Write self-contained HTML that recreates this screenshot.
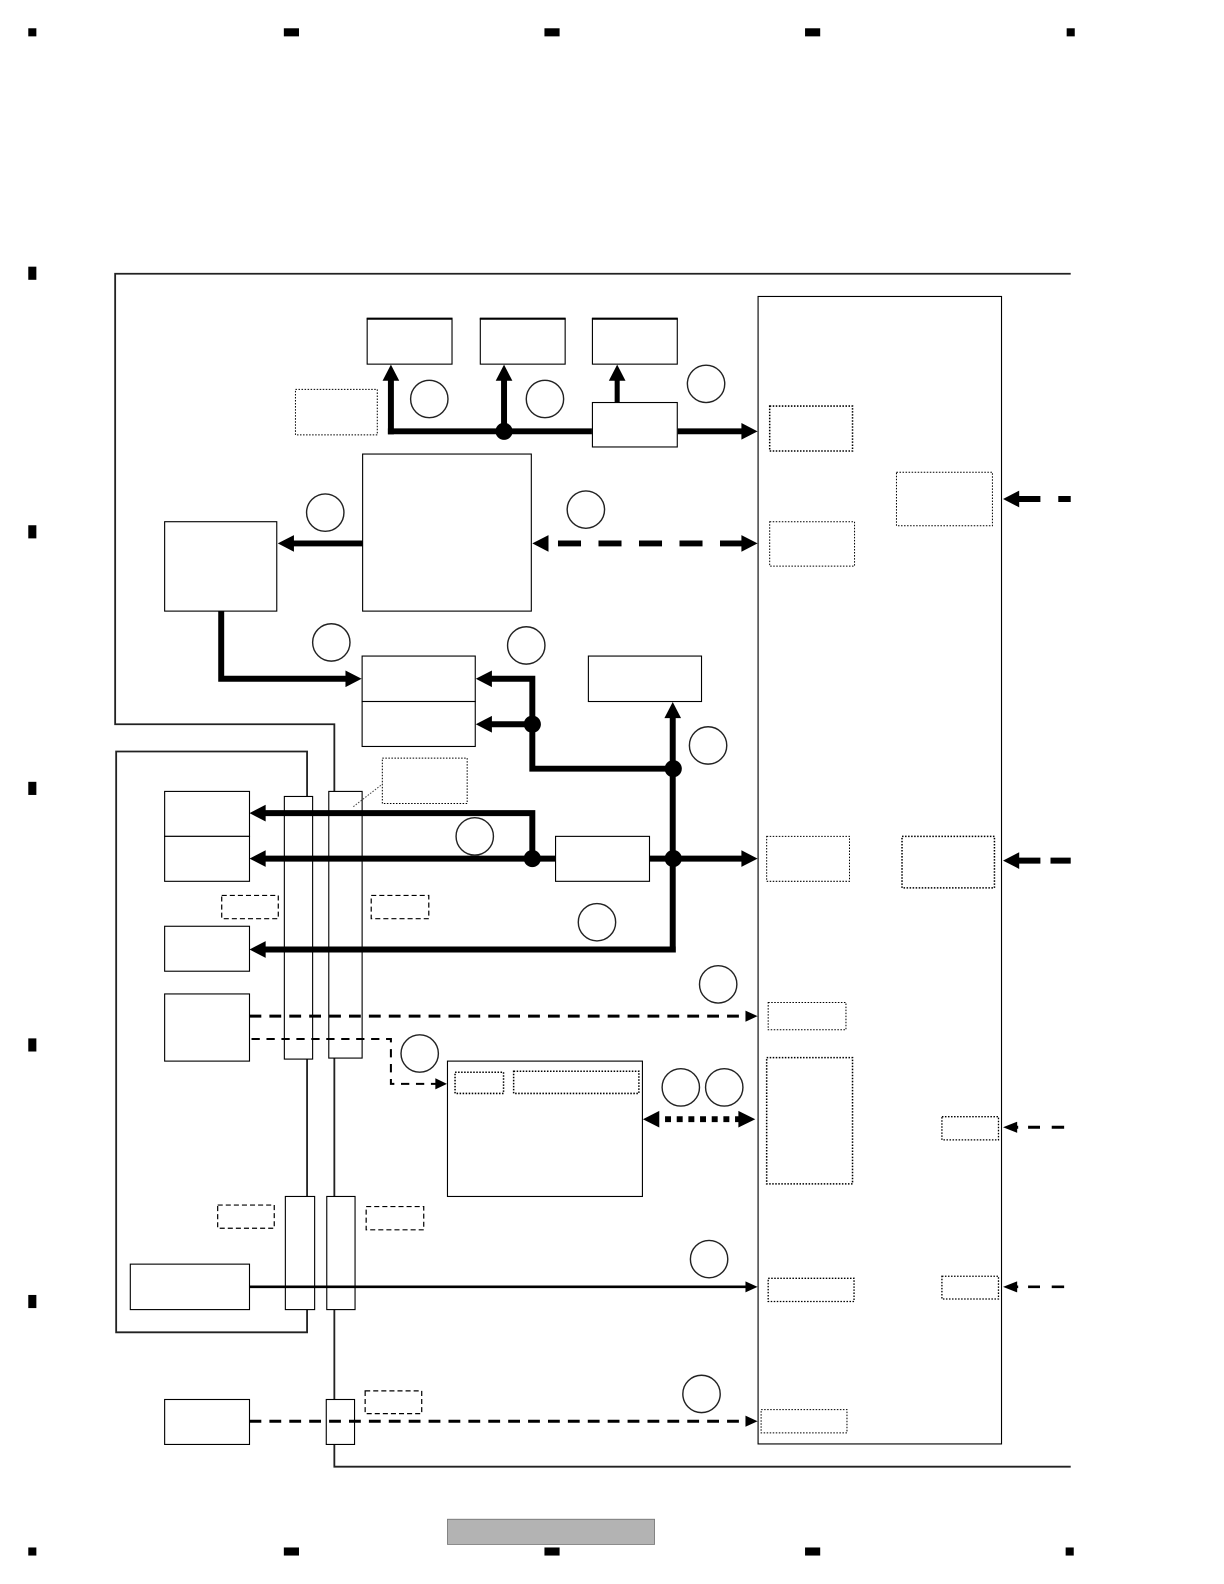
<!DOCTYPE html>
<html><head><meta charset="utf-8"><style>html,body{margin:0;padding:0;background:#fff}svg{display:block}</style></head><body>
<svg xmlns="http://www.w3.org/2000/svg" width="1224" height="1584" viewBox="0 0 1211.76 1568.16">
<g fill="#000">
<rect x="28" y="28" width="8" height="8"/><rect x="281" y="28" width="15" height="8"/><rect x="539" y="28" width="15" height="8"/><rect x="797" y="28" width="15" height="8"/><rect x="1056" y="28" width="8" height="8"/>
<rect x="28" y="264" width="8" height="13"/><rect x="28" y="520" width="8" height="13"/><rect x="28" y="774" width="8" height="13"/><rect x="28" y="1028" width="8" height="13"/><rect x="28" y="1282" width="8" height="13"/>
<rect x="28" y="1532" width="8" height="8"/><rect x="281" y="1532" width="15" height="8"/><rect x="539" y="1532" width="15" height="8"/><rect x="797" y="1532" width="15" height="8"/><rect x="1055" y="1532" width="8" height="8"/>
</g>
<rect x="443" y="1504" width="205" height="25" fill="#b3b3b3" stroke="#666" stroke-width="0.7"/>
<g fill="none" stroke="#222">
<path d="M1060 271H114V717H331V1452H1060" stroke-width="1.800"/>
<path d="M304 1184V744H115V1319H304V1184" stroke-width="1.800"/>
</g>
<g fill="#fff" stroke="#000" stroke-width="1.100">
<rect x="750.500" y="293.500" width="241" height="1136"/>
<rect x="363.500" y="315.500" width="84" height="45"/><rect x="475.500" y="315.500" width="84" height="45"/><rect x="586.500" y="315.500" width="84" height="45"/>
<rect x="359" y="449.500" width="167" height="155.500"/>
<rect x="163" y="516.500" width="111" height="88.500"/>
<rect x="358.500" y="649.500" width="112" height="45"/><rect x="358.500" y="694.500" width="112" height="44.500"/>
<rect x="582.500" y="649.500" width="112" height="45"/>
<rect x="163" y="783.500" width="84" height="44.500"/><rect x="163" y="828" width="84" height="44.500"/>
<rect x="550" y="828" width="93" height="44.500"/>
<rect x="163" y="917" width="84" height="44.500"/>
<rect x="163" y="984" width="84" height="66.500"/>
<rect x="443" y="1050.500" width="193" height="134"/>
<rect x="129" y="1251.500" width="118" height="45"/>
<rect x="163" y="1385.500" width="84" height="44.500"/>
<rect x="281.500" y="788.500" width="28" height="260"/>
<rect x="325.500" y="783.500" width="33" height="264"/>
<rect x="282.500" y="1184.500" width="29" height="112"/>
<rect x="323.500" y="1184.500" width="28" height="112"/>
<rect x="323" y="1385.500" width="28" height="44.500"/>
</g>
<path d="M363 315.500H448M475 315.500H560M586 315.500H671" stroke="#000" stroke-width="2" fill="none"/>
<g fill="none" stroke="#000" stroke-width="1" stroke-dasharray="1.500 1.500">
<rect x="292.500" y="385.500" width="81" height="45"/>
<rect x="762" y="402" width="82" height="44.500" stroke-width="1.500"/>
<rect x="887.500" y="467.500" width="95" height="53"/>
<rect x="762" y="516.500" width="84" height="44"/>
<rect x="378.500" y="750.500" width="84" height="45"/>
<rect x="759" y="828" width="82" height="44.500"/>
<rect x="893" y="828" width="91.500" height="51" stroke-width="1.500"/>
<rect x="760.500" y="992.500" width="77" height="27"/>
<rect x="759" y="1047" width="85" height="125" stroke-width="1.500"/>
<rect x="450.500" y="1061.500" width="48" height="21" stroke-width="1.500"/>
<rect x="508.500" y="1060.500" width="124" height="22" stroke-width="1.500"/>
<rect x="932.500" y="1105.500" width="56" height="23" stroke-width="1.300"/>
<rect x="760.500" y="1265.500" width="85" height="23" stroke-width="1.300"/>
<rect x="932.500" y="1263.500" width="56" height="22.500" stroke-width="1.300"/>
<rect x="753.500" y="1395.500" width="85" height="23"/>
<path d="M349.800 798.600L378.900 776" stroke="#444"/>
</g>
<g fill="none" stroke="#000" stroke-width="1.200" stroke-dasharray="5 3">
<rect x="219.500" y="886.500" width="56" height="23"/>
<rect x="367.500" y="886.500" width="57" height="23"/>
<rect x="215.500" y="1193" width="56" height="23"/>
<rect x="362.500" y="1194.500" width="57" height="23"/>
<rect x="361.500" y="1377" width="56" height="22.500"/>
</g>
<g fill="none" stroke="#000" stroke-linejoin="miter">
<g stroke-width="5.900">
<path d="M387 430V375"/>
<path d="M384 427H586"/>
<path d="M499 427V375"/>
<path d="M671 427H736"/>
<path d="M359 538H289"/>
<path d="M219 605V672H344"/>
<path d="M666 761H527V672H485"/>
<path d="M527 717H485"/>
<path d="M666 942.950V709"/>
<path d="M668.950 940H261"/>
<path d="M643 850H736"/>
<path d="M550 850H261"/>
<path d="M527 850V805H261"/>
<path d="M1060 494H1047.700M1030 494H1005"/>
<path d="M1060 852H1040M1030 852H1005"/>
<path d="M552.400 538H736" stroke-dasharray="22.800 17.300"/>
<path d="M658.400 1108H736" stroke-dasharray="5.900 5.650"/>
</g>
<path d="M611 398V375" stroke-width="5"/>
<path d="M247 1006H740" stroke-width="3" stroke-dasharray="11.700 8"/>
<path d="M249 1028.600H387V1073H432" stroke-width="2" stroke-dasharray="8.200 6.600"/>
<path d="M247 1274H740" stroke-width="2.600"/>
<path d="M247 1407H740" stroke-width="3" stroke-dasharray="11.700 8"/>
<path d="M1053.500 1116H1041.200M1029.600 1116H1017.800M1008 1116H1001" stroke-width="3"/>
<path d="M1053.500 1274H1041.200M1029.600 1274H1017.800M1008 1274H1001" stroke-width="2.600"/>
</g>
<g fill="#000">
<polygon points="378.750,377 387,361 395.250,377"/>
<polygon points="490.750,377 499,361 507.250,377"/>
<polygon points="602.750,377 611,361 619.250,377"/>
<polygon points="734,418.750 750,427 734,435.250"/>
<polygon points="291,529.750 275,538 291,546.250"/>
<polygon points="342,663.750 358,672 342,680.250"/>
<polygon points="487,663.750 471,672 487,680.250"/>
<polygon points="487,708.750 471,717 487,725.250"/>
<polygon points="657.750,711 666,695 674.250,711"/>
<polygon points="263,796.750 247,805 263,813.250"/>
<polygon points="263,841.750 247,850 263,858.250"/>
<polygon points="263,931.750 247,940 263,948.250"/>
<polygon points="734,841.750 750,850 734,858.250"/>
<polygon points="1009,485.750 993,494 1009,502.250"/>
<polygon points="1009,843.750 993,852 1009,860.250"/>
<polygon points="543,529.750 527,538 543,546.250"/>
<polygon points="734,529.750 750,538 734,546.250"/>
<polygon points="652.700,1099.750 636.500,1108 652.700,1116.250"/>
<polygon points="731,1099.750 747.700,1108 731,1116.250"/>
<polygon points="738,1000.500 750,1006 738,1011.500"/>
<polygon points="431,1067.500 442.500,1073 431,1078.500"/>
<polygon points="738,1268.500 750,1274 738,1279.500"/>
<polygon points="738,1401.500 750,1407 738,1412.500"/>
<polygon points="1007,1110.500 993,1116 1007,1121.500"/>
<polygon points="1007,1268.500 993,1274 1007,1279.500"/>
<circle cx="499" cy="427" r="8.500"/><circle cx="527" cy="717" r="8.500"/><circle cx="666.500" cy="761" r="8.500"/><circle cx="527" cy="850" r="8.500"/><circle cx="666.500" cy="850" r="8.500"/>
</g>
<g fill="#fff" stroke="#222" stroke-width="1.400">
<circle cx="425" cy="395" r="18.500"/><circle cx="539.500" cy="395" r="18.500"/><circle cx="699" cy="380" r="18.500"/>
<circle cx="322" cy="507.500" r="18.500"/><circle cx="580" cy="504.500" r="18.500"/><circle cx="328" cy="636" r="18.500"/>
<circle cx="521" cy="639" r="18.500"/><circle cx="701" cy="738" r="18.500"/><circle cx="470" cy="828" r="18.500"/>
<circle cx="591" cy="913" r="18.500"/><circle cx="711" cy="974.500" r="18.500"/><circle cx="415.500" cy="1043" r="18.500"/>
<circle cx="674" cy="1076.500" r="18.500"/><circle cx="717" cy="1076.500" r="18.500"/><circle cx="702" cy="1246.500" r="18.500"/><circle cx="694.500" cy="1380" r="18.500"/>
</g>
<g fill="#fff" stroke="#000" stroke-width="1.100">
<rect x="586.500" y="398.500" width="84" height="44"/>
</g>
</svg>
</body></html>
